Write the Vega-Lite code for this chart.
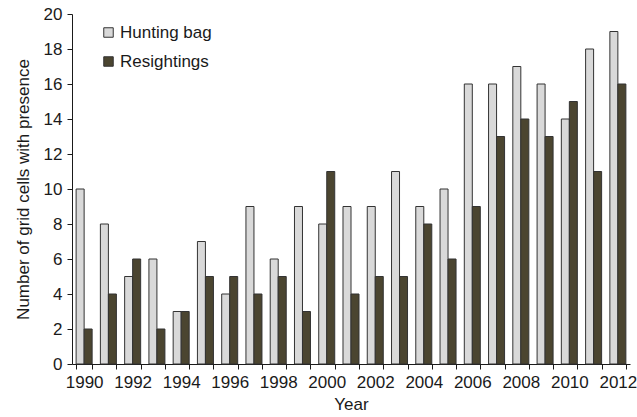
{
  "$schema": "https://vega.github.io/schema/vega-lite/v6.json",
  "width": 558,
  "height": 350,
  "autosize": {"type": "none"},
  "padding": {"left": 72, "top": 14, "right": 7, "bottom": 53},
  "background": "white",
  "config": {
    "view": {"stroke": null},
    "font": "Liberation Sans",
    "axis": {"labelFont": "Liberation Sans", "titleFont": "Liberation Sans", "labelColor": "#1a1a1a", "titleColor": "#1a1a1a", "domainColor": "#1a1a1a", "tickColor": "#1a1a1a", "labelFontSize": 17, "titleFontSize": 17, "titleFontWeight": "normal", "grid": false}
  },
  "data": {
    "values": [
      {"year": 1990, "series": "Hunting bag", "value": 10}, {"year": 1990, "series": "Resightings", "value": 2},
      {"year": 1991, "series": "Hunting bag", "value": 8}, {"year": 1991, "series": "Resightings", "value": 4},
      {"year": 1992, "series": "Hunting bag", "value": 5}, {"year": 1992, "series": "Resightings", "value": 6},
      {"year": 1993, "series": "Hunting bag", "value": 6}, {"year": 1993, "series": "Resightings", "value": 2},
      {"year": 1994, "series": "Hunting bag", "value": 3}, {"year": 1994, "series": "Resightings", "value": 3},
      {"year": 1995, "series": "Hunting bag", "value": 7}, {"year": 1995, "series": "Resightings", "value": 5},
      {"year": 1996, "series": "Hunting bag", "value": 4}, {"year": 1996, "series": "Resightings", "value": 5},
      {"year": 1997, "series": "Hunting bag", "value": 9}, {"year": 1997, "series": "Resightings", "value": 4},
      {"year": 1998, "series": "Hunting bag", "value": 6}, {"year": 1998, "series": "Resightings", "value": 5},
      {"year": 1999, "series": "Hunting bag", "value": 9}, {"year": 1999, "series": "Resightings", "value": 3},
      {"year": 2000, "series": "Hunting bag", "value": 8}, {"year": 2000, "series": "Resightings", "value": 11},
      {"year": 2001, "series": "Hunting bag", "value": 9}, {"year": 2001, "series": "Resightings", "value": 4},
      {"year": 2002, "series": "Hunting bag", "value": 9}, {"year": 2002, "series": "Resightings", "value": 5},
      {"year": 2003, "series": "Hunting bag", "value": 11}, {"year": 2003, "series": "Resightings", "value": 5},
      {"year": 2004, "series": "Hunting bag", "value": 9}, {"year": 2004, "series": "Resightings", "value": 8},
      {"year": 2005, "series": "Hunting bag", "value": 10}, {"year": 2005, "series": "Resightings", "value": 6},
      {"year": 2006, "series": "Hunting bag", "value": 16}, {"year": 2006, "series": "Resightings", "value": 9},
      {"year": 2007, "series": "Hunting bag", "value": 16}, {"year": 2007, "series": "Resightings", "value": 13},
      {"year": 2008, "series": "Hunting bag", "value": 17}, {"year": 2008, "series": "Resightings", "value": 14},
      {"year": 2009, "series": "Hunting bag", "value": 16}, {"year": 2009, "series": "Resightings", "value": 13},
      {"year": 2010, "series": "Hunting bag", "value": 14}, {"year": 2010, "series": "Resightings", "value": 15},
      {"year": 2011, "series": "Hunting bag", "value": 18}, {"year": 2011, "series": "Resightings", "value": 11},
      {"year": 2012, "series": "Hunting bag", "value": 19}, {"year": 2012, "series": "Resightings", "value": 16}
    ]
  },
  "mark": {"type": "bar", "stroke": "#333333", "strokeWidth": 1},
  "encoding": {
    "x": {
      "field": "year", "type": "ordinal", "title": "Year",
      "scale": {"paddingInner": 0.34, "paddingOuter": 0.17},
      "axis": {"labelAngle": 0, "tickBand": "extent", "labelExpr": "datum.value % 2 == 0 ? datum.label : ''", "tickSize": 5, "labelPadding": 5, "titlePadding": 6}
    },
    "xOffset": {"field": "series", "type": "nominal"},
    "y": {
      "field": "value", "type": "quantitative", "title": "Number of grid cells with presence",
      "scale": {"domain": [0, 20], "nice": false},
      "axis": {"values": [0, 2, 4, 6, 8, 10, 12, 14, 16, 18, 20], "tickSize": 5, "labelPadding": 5, "titlePadding": 11}
    },
    "color": {
      "field": "series", "type": "nominal",
      "scale": {"domain": ["Hunting bag", "Resightings"], "range": ["#d9d9d9", "#4b4530"]},
      "legend": {"title": null, "orient": "none", "legendX": 28, "legendY": 10, "symbolType": "square", "symbolSize": 90, "symbolStrokeColor": "#333333", "symbolStrokeWidth": 1, "labelFontSize": 17, "labelFont": "Liberation Sans", "labelColor": "#1a1a1a", "rowPadding": 11, "labelOffset": 3}
    }
  }
}
